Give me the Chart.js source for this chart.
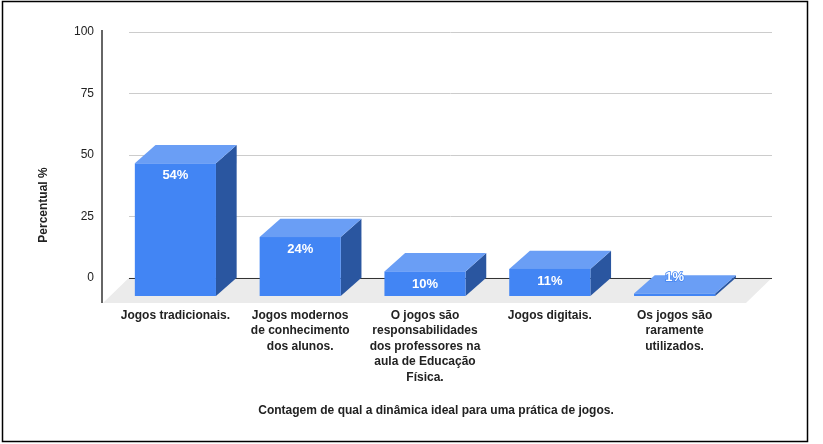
<!DOCTYPE html>
<html><head><meta charset="utf-8">
<script src="https://cdn.jsdelivr.net/npm/chart.js@4"></script>
<style>html,body{margin:0;padding:0;background:#fff}#wrap{width:823px;height:444px;position:relative}canvas{display:block}</style>
</head><body><div id="wrap"><canvas id="c" width="823" height="444"></canvas></div>
<script>
const categories = [
  ['Jogos tradicionais.'],
  ['Jogos modernos', 'de conhecimento', 'dos alunos.'],
  ['O jogos são', 'responsabilidades', 'dos professores na', 'aula de Educação', 'Física.'],
  ['Jogos digitais.'],
  ['Os jogos são', 'raramente', 'utilizados.']
];
const values = [54, 24, 10, 11, 1];
const valueLabels = ['54%', '24%', '10%', '11%', '1%'];
const yTicks = [0, 25, 50, 75, 100];
const yTitle = 'Percentual %';
const xTitle = 'Contagem de qual a dinâmica ideal para uma prática de jogos.';

const DX = 20.7, DY = 18.3;
const FONT = '"Liberation Sans", Arial, sans-serif';

function poly(ctx, pts) {
  ctx.beginPath();
  ctx.moveTo(pts[0][0], pts[0][1]);
  for (let k = 1; k < pts.length; k++) ctx.lineTo(pts[k][0], pts[k][1]);
  ctx.closePath();
  ctx.fill();
}

const threeD = {
  id: 'threeD',
  beforeDatasetsDraw(chart) {
    const {ctx, chartArea: a, scales: {y}} = chart;
    const z = y.getPixelForValue(0);
    ctx.save();
    // outer frame
    ctx.strokeStyle = '#000';
    ctx.lineWidth = 1.5;
    ctx.strokeRect(2.5, 1.5, 805, 440);
    // floor
    ctx.fillStyle = '#ebebeb';
    poly(ctx, [[a.left - 10, a.bottom], [a.left + 16, z], [a.right + 35, z], [a.right + 9, a.bottom]]);
    // grid lines
    ctx.strokeStyle = '#cccccc';
    ctx.lineWidth = 1;
    yTicks.forEach(v => {
      if (v === 0) return;
      const p = Math.round(y.getPixelForValue(v)) + 0.5;
      ctx.beginPath(); ctx.moveTo(a.left + 16, p); ctx.lineTo(a.right + 35, p); ctx.stroke();
    });
    // zero line
    ctx.strokeStyle = '#333';
    const zp = Math.round(z) + 0.5;
    ctx.beginPath(); ctx.moveTo(a.left + 16, zp); ctx.lineTo(a.right + 35, zp); ctx.stroke();
    // y axis line
    ctx.lineWidth = 1.5;
    ctx.beginPath(); ctx.moveTo(a.left - 11, y.getPixelForValue(100) - 2); ctx.lineTo(a.left - 11, a.bottom); ctx.stroke();
    ctx.restore();
  },
  afterDatasetsDraw(chart) {
    const {ctx} = chart;
    const meta = chart.getDatasetMeta(0);
    ctx.save();
    meta.data.forEach((bar, i) => {
      const {x, y, base, width} = bar.getProps(['x', 'y', 'base', 'width'], true);
      const l = x - width / 2, r = x + width / 2;
      const t = y + DY, b = base + DY;
      ctx.fillStyle = '#2a56a0';
      poly(ctx, [[r, t], [r + DX, t - DY], [r + DX, b - DY], [r, b]]);
      ctx.fillStyle = '#6a9ef5';
      poly(ctx, [[l, t], [r, t], [r + DX, t - DY], [l + DX, t - DY]]);
      ctx.fillStyle = '#4285f4';
      ctx.fillRect(l, t, width, b - t);
      ctx.font = 'bold 13px ' + FONT;
      ctx.textAlign = 'center';
      ctx.textBaseline = 'middle';
      const small = (b - t) < 18;
      const ly = small ? y + 2 : t + 12.5;
      if (small) {
        ctx.strokeStyle = '#4285f4';
        ctx.lineWidth = 1.5;
        ctx.strokeText(valueLabels[i], x, ly);
      }
      ctx.fillStyle = '#fff';
      ctx.fillText(valueLabels[i], x, ly);
    });
    ctx.fillStyle = '#222';
    ctx.font = 'bold 12px ' + FONT;
    ctx.textAlign = 'center';
    ctx.textBaseline = 'middle';
    ctx.fillText(xTitle, 436, 411);
    ctx.translate(43.5, 205);
    ctx.rotate(-Math.PI / 2);
    ctx.fillText(yTitle, 0, 0);
    ctx.restore();
  }
};

new Chart(document.getElementById('c'), {
  type: 'bar',
  data: {
    labels: categories,
    datasets: [{
      data: values,
      backgroundColor: 'rgba(0,0,0,0)',
      borderWidth: 0,
      barPercentage: 0.65,
      categoryPercentage: 1
    }]
  },
  options: {
    responsive: false,
    animation: false,
    layout: {padding: {left: 0, top: 32, right: 86, bottom: 0}},
    plugins: {legend: {display: false}, tooltip: {enabled: false}},
    scales: {
      x: {
        grid: {display: false, drawTicks: false},
        border: {display: false},
        ticks: {autoSkip: false, maxRotation: 0, minRotation: 0, padding: 5, color: '#222',
          font: {family: FONT, size: 12, weight: 'bold', lineHeight: 15.4 / 12}},
        afterFit(s) { s.height = 141; }
      },
      y: {
        min: -10.3, max: 100,
        grid: {display: false, drawTicks: false},
        border: {display: false},
        afterBuildTicks(s) { s.ticks = yTicks.map(v => ({value: v})); },
        ticks: {padding: 19, color: '#222', font: {family: FONT, size: 12}},
        afterFit(s) { s.width = 113; }
      }
    }
  },
  plugins: [threeD]
});
</script>
</body></html>
